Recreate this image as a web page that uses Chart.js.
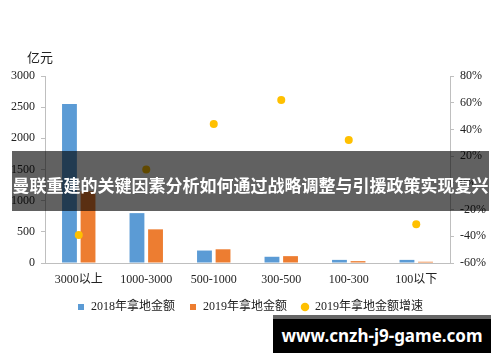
<!DOCTYPE html>
<html>
<head>
<meta charset="utf-8">
<script src="https://cdn.jsdelivr.net/npm/chart.js@4.4.0/dist/chart.umd.min.js"></script>
<style>
  html, body { margin: 0; padding: 0; background: #fff; }
  #wrap { position: relative; width: 500px; height: 362px; overflow: hidden; }
  #unit { position: absolute; left: 27px; top: 47px; font: 13px "Noto Sans CJK SC", sans-serif; color: #222; }
  #banner { position: absolute; left: 12px; top: 151px; width: 477px; height: 60px; background: rgba(0,0,0,0.62);
            color: #fff; font: bold 17px "Noto Sans CJK SC", sans-serif; white-space: nowrap; text-align: center; line-height: 68px; }
  #mark { position: absolute; left: 273px; top: 315px; width: 218px; height: 34px; background: #000; border-top: 4px solid #666;
          color: #fff; font: bold 17px "Noto Sans", "DejaVu Sans", sans-serif; text-align: center; line-height: 34px; }
</style>
</head>
<body>
<div id="wrap">
  <canvas id="c" width="500" height="362"></canvas>
  <div id="unit">亿元</div>
  <div id="banner">曼联重建的关键因素分析如何通过战略调整与引援政策实现复兴</div>
  <div id="mark">www.cnzh-j9-game.com</div>
</div>
<script>
const categories = ["3000以上", "1000-3000", "500-1000", "300-500", "100-300", "100以下"];
const amount2018 = [2550, 800, 200, 100, 50, 50];
const amount2019 = [1150, 540, 220, 110, 30, 20];
const growth2019 = [-39, 10, 44, 62, 32, -31];
const leftTicks = [0, 500, 1000, 1500, 2000, 2500, 3000];
const rightTicks = [-60, -40, -20, 0, 20, 40, 60, 80];

const numFont = { family: '"Liberation Serif", "Noto Sans CJK SC", serif', size: 12 };
const axisGray = '#bfbfbf';

new Chart(document.getElementById('c'), {
  data: {
    labels: categories,
    datasets: [
      { type: 'bar', label: '2018年拿地金额', data: amount2018, backgroundColor: '#5B9BD5', borderWidth: 0,
        yAxisID: 'y', pointStyle: 'rect', categoryPercentage: 0.55, barPercentage: 0.8 },
      { type: 'bar', label: '2019年拿地金额', data: amount2019, backgroundColor: '#ED7D31', borderWidth: 0,
        yAxisID: 'y', pointStyle: 'rect', categoryPercentage: 0.55, barPercentage: 0.8 },
      { type: 'line', label: '2019年拿地金额增速', data: growth2019, showLine: false, yAxisID: 'y1',
        backgroundColor: '#FFC000', borderColor: '#FFC000', pointRadius: 4, pointBorderWidth: 0,
        pointStyle: 'circle', order: -1 }
    ]
  },
  options: {
    responsive: false,
    animation: false,
    layout: { padding: { top: 76, bottom: 39, left: 0, right: 0 } },
    plugins: {
      tooltip: { enabled: false },
      legend: {
        position: 'bottom',
        labels: {
          usePointStyle: true, boxWidth: 8, boxHeight: 6, padding: 14,
          color: '#222', font: { family: '"Liberation Serif", "Noto Sans CJK SC", serif', size: 12 },
          sort: (a, b) => a.datasetIndex - b.datasetIndex
        }
      }
    },
    scales: {
      x: {
        offset: true,
        grid: { display: false, drawTicks: false },
        border: { color: axisGray },
        ticks: { color: '#222', font: numFont, padding: 10, maxRotation: 0 },
        afterFit: s => { s.height = 24; }
      },
      y: {
        position: 'left', min: 0, max: 3000,
        afterBuildTicks: s => { s.ticks = leftTicks.map(v => ({ value: v })); },
        grid: { drawOnChartArea: false, drawTicks: true, tickLength: 4, color: axisGray },
        border: { color: axisGray },
        ticks: { color: '#222', font: numFont, padding: 6, callback: v => String(v) },
        afterFit: s => { s.width = 45; }
      },
      y1: {
        position: 'right', min: -60, max: 80,
        afterBuildTicks: s => { s.ticks = rightTicks.map(v => ({ value: v })); },
        grid: { drawOnChartArea: false, drawTicks: true, tickLength: 4, color: axisGray },
        border: { color: axisGray },
        ticks: { color: '#222', font: numFont, padding: 6, callback: v => v + '%' },
        afterFit: s => { s.width = 50; }
      }
    }
  }
});
</script>
</body>
</html>
